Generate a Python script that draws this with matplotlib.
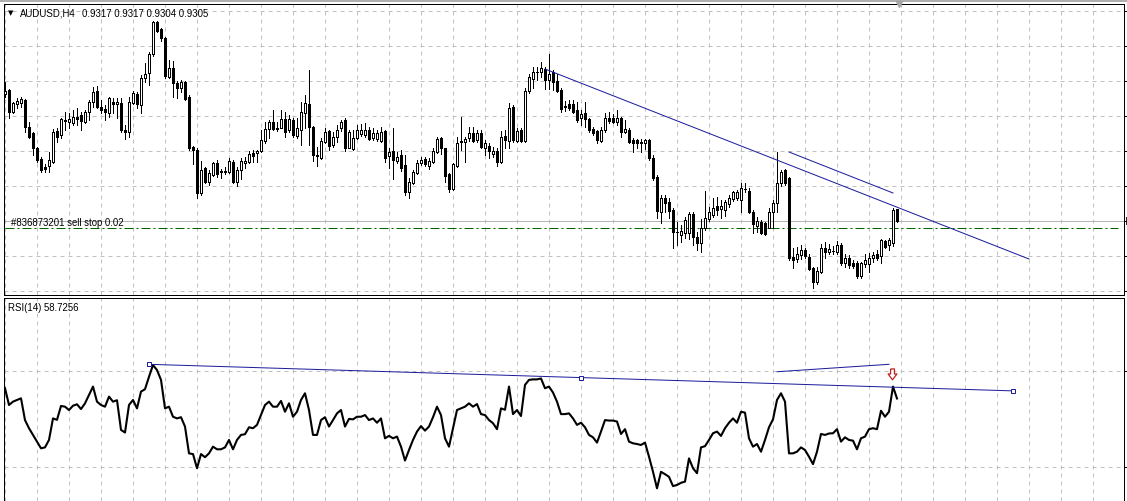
import matplotlib
matplotlib.use("Agg")
import matplotlib.pyplot as plt
from matplotlib.lines import Line2D
import numpy as np

# AUDUSD H4 candles, prices in 1/10000 (0.9432 -> 9432)
opens = [9432, 9436, 9414, 9422, 9423, 9426, 9399, 9393, 9378, 9367,
         9359, 9360, 9364, 9395, 9391, 9406, 9404, 9403, 9409, 9411,
         9404, 9414, 9424, 9435, 9419, 9417, 9413, 9424, 9422, 9423,
         9396, 9394, 9423, 9432, 9421, 9448, 9453, 9472, 9504, 9497,
         9488, 9449, 9458, 9443, 9438, 9444, 9429, 9379, 9376, 9333,
         9358, 9344, 9351, 9363, 9355, 9354, 9354, 9364, 9344, 9356,
         9363, 9364, 9373, 9373, 9375, 9385, 9397, 9404, 9398, 9398,
         9407, 9396, 9406, 9390, 9396, 9413, 9422, 9399, 9371, 9368,
         9384, 9395, 9381, 9389, 9398, 9406, 9378, 9377, 9388, 9392,
         9391, 9396, 9388, 9387, 9385, 9395, 9370, 9375, 9365, 9371,
         9361, 9334, 9343, 9353, 9363, 9367, 9360, 9364, 9374, 9388,
         9378, 9352, 9337, 9360, 9384, 9384, 9388, 9393, 9386, 9393,
         9378, 9380, 9372, 9375, 9364, 9390, 9385, 9419, 9385, 9396,
         9385, 9435, 9447, 9454, 9454, 9457, 9446, 9454, 9445, 9436,
         9420, 9422, 9422, 9416, 9408, 9413, 9407, 9397, 9395, 9385,
         9396, 9408, 9408, 9404, 9408, 9394, 9396, 9386, 9386, 9384,
         9383, 9386, 9368, 9349, 9314, 9328, 9324, 9316, 9294, 9291,
         9293, 9293, 9312, 9289, 9283, 9298, 9307, 9311, 9320, 9317,
         9316, 9322, 9327, 9328, 9326, 9337, 9335, 9314, 9300, 9304,
         9303, 9298, 9314, 9323, 9343, 9356, 9348, 9269, 9267, 9271,
         9276, 9269, 9258, 9244, 9254, 9278, 9274, 9275, 9274, 9281,
         9263, 9268, 9263, 9263, 9250, 9262, 9262, 9268, 9272, 9270,
         9285, 9281, 9283, 9317]
highs = [9444, 9437, 9424, 9428, 9429, 9427, 9404, 9394, 9379, 9369,
         9362, 9374, 9397, 9398, 9408, 9414, 9413, 9416, 9418, 9414,
         9416, 9426, 9439, 9440, 9426, 9421, 9429, 9428, 9428, 9428,
         9401, 9429, 9435, 9434, 9451, 9463, 9474, 9505, 9505, 9498,
         9489, 9466, 9465, 9445, 9446, 9445, 9431, 9380, 9378, 9365,
         9359, 9356, 9364, 9366, 9357, 9359, 9368, 9366, 9359, 9368,
         9369, 9375, 9376, 9376, 9396, 9404, 9406, 9416, 9404, 9416,
         9414, 9411, 9408, 9408, 9424, 9431, 9456, 9400, 9379, 9388,
         9398, 9396, 9394, 9401, 9406, 9408, 9396, 9396, 9401, 9402,
         9403, 9399, 9398, 9396, 9399, 9396, 9378, 9398, 9374, 9376,
         9371, 9348, 9356, 9366, 9369, 9369, 9368, 9378, 9389, 9389,
         9378, 9353, 9363, 9389, 9409, 9389, 9399, 9399, 9396, 9396,
         9386, 9383, 9379, 9378, 9395, 9396, 9423, 9421, 9398, 9398,
         9438, 9452, 9459, 9459, 9464, 9459, 9472, 9456, 9452, 9438,
         9425, 9426, 9426, 9424, 9416, 9424, 9408, 9399, 9396, 9399,
         9413, 9414, 9412, 9416, 9409, 9406, 9398, 9388, 9387, 9387,
         9387, 9387, 9371, 9351, 9331, 9331, 9328, 9318, 9304, 9301,
         9309, 9314, 9314, 9294, 9307, 9335, 9319, 9328, 9329, 9326,
         9326, 9331, 9335, 9336, 9343, 9343, 9338, 9316, 9309, 9306,
         9304, 9318, 9326, 9374, 9356, 9357, 9349, 9278, 9279, 9281,
         9278, 9272, 9259, 9259, 9282, 9284, 9282, 9280, 9285, 9283,
         9272, 9271, 9266, 9265, 9264, 9272, 9273, 9274, 9276, 9287,
         9286, 9288, 9318, 9317]
lows = [9429, 9408, 9413, 9418, 9419, 9394, 9388, 9371, 9364, 9354,
        9354, 9354, 9363, 9384, 9388, 9396, 9398, 9401, 9401, 9396,
        9403, 9406, 9419, 9418, 9413, 9406, 9409, 9413, 9408, 9394,
        9387, 9389, 9422, 9418, 9413, 9444, 9441, 9470, 9494, 9485,
        9448, 9448, 9429, 9428, 9434, 9426, 9376, 9362, 9328, 9331,
        9343, 9341, 9350, 9349, 9348, 9352, 9353, 9343, 9340, 9347,
        9358, 9363, 9364, 9364, 9374, 9383, 9388, 9396, 9395, 9398,
        9389, 9394, 9389, 9388, 9381, 9398, 9381, 9365, 9360, 9367,
        9383, 9376, 9379, 9384, 9395, 9375, 9378, 9376, 9387, 9390,
        9389, 9386, 9386, 9385, 9384, 9364, 9358, 9347, 9363, 9355,
        9331, 9328, 9342, 9352, 9361, 9360, 9357, 9363, 9373, 9372,
        9344, 9334, 9336, 9359, 9376, 9364, 9385, 9384, 9384, 9378,
        9371, 9368, 9369, 9360, 9363, 9378, 9378, 9384, 9384, 9384,
        9384, 9433, 9438, 9446, 9449, 9437, 9437, 9436, 9434, 9414,
        9415, 9416, 9413, 9404, 9401, 9399, 9394, 9391, 9383, 9384,
        9394, 9403, 9403, 9401, 9389, 9393, 9383, 9374, 9378, 9374,
        9377, 9366, 9346, 9308, 9303, 9314, 9308, 9278, 9281, 9284,
        9288, 9287, 9281, 9276, 9274, 9296, 9305, 9309, 9311, 9308,
        9310, 9319, 9325, 9326, 9314, 9334, 9313, 9293, 9294, 9292,
        9291, 9298, 9298, 9314, 9340, 9341, 9266, 9258, 9264, 9267,
        9268, 9256, 9238, 9242, 9253, 9268, 9272, 9272, 9272, 9261,
        9259, 9258, 9258, 9248, 9248, 9259, 9254, 9264, 9266, 9263,
        9278, 9276, 9280, 9304]
closes = [9435, 9414, 9423, 9425, 9427, 9399, 9389, 9378, 9366, 9356,
          9357, 9366, 9394, 9389, 9407, 9405, 9407, 9409, 9407, 9405,
          9414, 9424, 9434, 9419, 9416, 9414, 9428, 9422, 9424, 9396,
          9394, 9424, 9433, 9422, 9448, 9452, 9472, 9504, 9495, 9488,
          9450, 9458, 9443, 9438, 9444, 9427, 9378, 9376, 9333, 9356,
          9344, 9353, 9363, 9352, 9354, 9355, 9365, 9344, 9356, 9365,
          9365, 9372, 9370, 9375, 9386, 9397, 9404, 9397, 9397, 9407,
          9394, 9407, 9391, 9398, 9414, 9423, 9399, 9371, 9370, 9385,
          9394, 9380, 9389, 9396, 9404, 9378, 9394, 9388, 9396, 9396,
          9396, 9387, 9393, 9393, 9394, 9368, 9374, 9366, 9369, 9358,
          9334, 9344, 9354, 9363, 9366, 9362, 9365, 9375, 9387, 9378,
          9350, 9337, 9362, 9383, 9385, 9387, 9393, 9385, 9393, 9379,
          9383, 9375, 9375, 9364, 9389, 9386, 9418, 9386, 9395, 9385,
          9435, 9449, 9454, 9454, 9458, 9446, 9452, 9444, 9435, 9417,
          9419, 9418, 9414, 9406, 9412, 9407, 9396, 9393, 9386, 9396,
          9408, 9405, 9404, 9408, 9394, 9397, 9384, 9383, 9383, 9383,
          9386, 9368, 9348, 9315, 9328, 9323, 9315, 9294, 9294, 9295,
          9306, 9312, 9289, 9283, 9298, 9308, 9314, 9318, 9316, 9320,
          9324, 9328, 9334, 9334, 9338, 9337, 9314, 9302, 9305, 9293,
          9292, 9314, 9323, 9343, 9354, 9343, 9268, 9266, 9272, 9276,
          9270, 9257, 9244, 9255, 9278, 9274, 9277, 9275, 9281, 9263,
          9268, 9261, 9260, 9250, 9263, 9266, 9268, 9271, 9268, 9286,
          9279, 9286, 9316, 9305]

# RSI(14), one value per candle
rsi = [63.0, 56.0, 57.4, 58.1, 58.8, 49.7, 46.3, 43.5, 40.7, 37.9,
       38.3, 41.4, 50.4, 49.8, 55.6, 55.3, 53.9, 55.7, 56.3, 54.3,
       56.7, 60.2, 63.7, 57.4, 56.0, 55.3, 59.5, 57.4, 58.0, 45.6,
       44.5, 56.0, 58.1, 54.6, 61.6, 62.6, 67.8, 72.7, 70.6, 66.5,
       54.6, 55.3, 51.1, 50.4, 50.9, 47.0, 35.8, 35.5, 29.6, 35.5,
       34.2, 35.8, 38.6, 37.5, 37.5, 38.3, 41.4, 37.5, 41.4, 43.5,
       43.8, 46.7, 46.3, 47.7, 51.8, 56.0, 57.4, 55.3, 55.3, 57.7,
       53.2, 56.7, 51.1, 53.2, 58.1, 60.9, 53.9, 43.5, 43.5, 49.7,
       50.9, 47.0, 49.7, 52.5, 53.9, 47.0, 50.2, 50.0, 51.1, 51.1,
       51.8, 49.7, 50.4, 48.6, 50.4, 42.1, 43.1, 42.1, 42.8, 38.6,
       32.8, 37.2, 41.4, 44.9, 47.2, 45.3, 47.0, 50.9, 55.3, 51.8,
       42.1, 38.6, 46.3, 53.9, 54.6, 55.3, 56.7, 55.3, 56.4, 52.2,
       51.8, 49.7, 48.4, 45.9, 54.6, 54.0, 63.7, 52.2, 53.9, 51.4,
       64.4, 66.5, 66.7, 66.7, 67.1, 63.0, 63.7, 61.2, 57.4, 52.2,
       52.2, 52.5, 50.4, 47.7, 48.6, 46.7, 43.5, 42.5, 40.3, 44.9,
       49.7, 49.5, 49.5, 49.1, 43.9, 45.9, 40.7, 40.0, 39.7, 39.3,
       40.3, 34.4, 28.1, 21.2, 28.1, 27.1, 26.0, 22.1, 22.6, 23.5,
       24.0, 33.7, 29.6, 27.5, 38.3, 38.8, 41.4, 44.2, 44.9, 43.1,
       46.3, 48.6, 50.4, 48.6, 53.2, 52.8, 42.1, 38.6, 39.7, 36.5,
       41.4, 46.7, 50.0, 58.1, 60.9, 57.4, 35.8, 35.8, 36.5, 38.3,
       37.2, 34.4, 31.3, 36.5, 43.9, 43.5, 44.1, 44.2, 45.9, 40.7,
       42.5, 41.4, 41.1, 37.5, 42.1, 42.8, 45.9, 46.3, 45.9, 53.6,
       51.1, 53.2, 63.7, 58.7256]

# drawn objects: (bar index, value)
trend_main = [(135, 0.9457), (256, 0.9267)]
trend_main2 = [(196, 0.9374), (222, 0.9333)]
trend_rsi = [(36, 73.0), (252, 61.9)]
trend_rsi2 = [(193, 69.9), (221, 73.0)]
sell_stop = 0.9298
bid = 0.9305

o = np.array(opens) / 10000
h = np.array(highs) / 10000
l = np.array(lows) / 10000
c = np.array(closes) / 10000
x = np.arange(len(c))

W, H = 1127, 501
plt.rcParams['font.family'] = ['Liberation Sans', 'DejaVu Sans']
fig = plt.figure(figsize=(W / 100, H / 100), dpi=100)
fig.patch.set_facecolor('white')

ax1 = fig.add_axes([4 / W, 1 - 295 / H, 1120 / W, 291 / H])
ax2 = fig.add_axes([4 / W, 0, 1120 / W, 203 / H])

navy = '#1c1c9c'
gridc = '#c0c0c0'
px = 0.72

for ax in (ax1, ax2):
    ax.set_xlim(-0.25, 279.75)
    ax.set_xticks(np.arange(0, 280, 8))
    ax.tick_params(axis='x', length=0, labelbottom=False)
    ax.yaxis.tick_right()
    ax.tick_params(axis='y', direction='out', length=2.2, width=px,
                   labelright=False)
    ax.grid(True, color=gridc, linestyle=(0, (4, 4)), linewidth=px)
    ax.set_axisbelow(True)
    for s in ax.spines.values():
        s.set_linewidth(px)
        s.set_color('black')

# --- price panel
ax1.set_ylim(0.9231, 0.9522)
ax1.set_yticks(0.9235 + 0.0035 * np.arange(9))
ax1.axhline(bid, color='#b4b4b4', lw=px, zorder=1)
ax1.plot([0, 278.25], [sell_stop, sell_stop], color='#006400', lw=px,
         linestyle=(0, (9, 3, 2, 3)), zorder=1)

ax1.vlines(x, l, h, color='black', lw=px, antialiased=False, zorder=2)
up = c >= o
bottoms = np.minimum(o, c)
heights = np.abs(c - o)
ax1.bar(x, heights, bottom=bottoms, width=0.5,
        color=np.where(up, 'white', 'black'), edgecolor='black',
        linewidth=px, antialiased=False, zorder=3)

for line in (trend_main, trend_main2):
    ax1.plot([p[0] for p in line], [p[1] for p in line], color=navy,
             lw=px, zorder=4)

ax1.plot([x[-1] + 0.5], [1.0], marker='v', markersize=4, color='#a8a8a8',
         transform=ax1.get_xaxis_transform(), clip_on=False, zorder=6)
ax1.plot([1.0025], [bid], marker='|', markersize=6, mew=1.2, color='black',
         transform=ax1.get_yaxis_transform(), clip_on=False)

# --- RSI panel
ax2.set_ylim(15.9, 100.7)
ax2.set_yticks([30, 70])
ax2.spines['bottom'].set_visible(False)
ax2.plot(x, rsi, color='black', lw=1.5, zorder=3)

ax2.plot([p[0] for p in trend_rsi], [p[1] for p in trend_rsi], color=navy,
         lw=px, zorder=4)
mid = ((trend_rsi[0][0] + trend_rsi[1][0]) / 2,
       (trend_rsi[0][1] + trend_rsi[1][1]) / 2)
ax2.plot([trend_rsi[0][0], mid[0], trend_rsi[1][0]],
         [trend_rsi[0][1], mid[1], trend_rsi[1][1]], linestyle='none',
         marker='s', markersize=3.2, mfc='white', mec=navy, mew=px, zorder=5)
ax2.plot([p[0] for p in trend_rsi2], [p[1] for p in trend_rsi2], color=navy,
         lw=px, zorder=4)

arrow = [(-0.35, 1), (0.35, 1), (0.35, 0.1), (0.8, 0.1), (0, -0.95),
         (-0.8, 0.1), (-0.35, 0.1), (-0.35, 1)]
ax2.plot([221.7], [68.75], marker=arrow, markersize=8, mfc='white',
         mec='#c02020', mew=0.9, zorder=6)

# --- frame and labels
fig.add_artist(Line2D([0, 1], [1 - 0.5 / H, 1 - 0.5 / H], color='#a0a0a0',
                      lw=1.2, transform=fig.transFigure))


def ftext(px_x, px_y, s, **kw):
    fig.text(px_x / W, 1 - px_y / H, s, va='baseline', ha='left',
             fontsize=6.9, color='black', **kw)


fig.text(8 / W, 1 - 15.5 / H, '\u25bc', fontsize=5, va='baseline',
         family='DejaVu Sans')
ftext(20, 17, 'AUDUSD,H4')
ftext(82, 17, '0.9317 0.9317 0.9304 0.9305')
ftext(11.5, 226, '#836873201 sell stop 0.02')
ftext(8, 311, 'RSI(14) 58.7256')

fig.savefig('out.png', dpi=100)
